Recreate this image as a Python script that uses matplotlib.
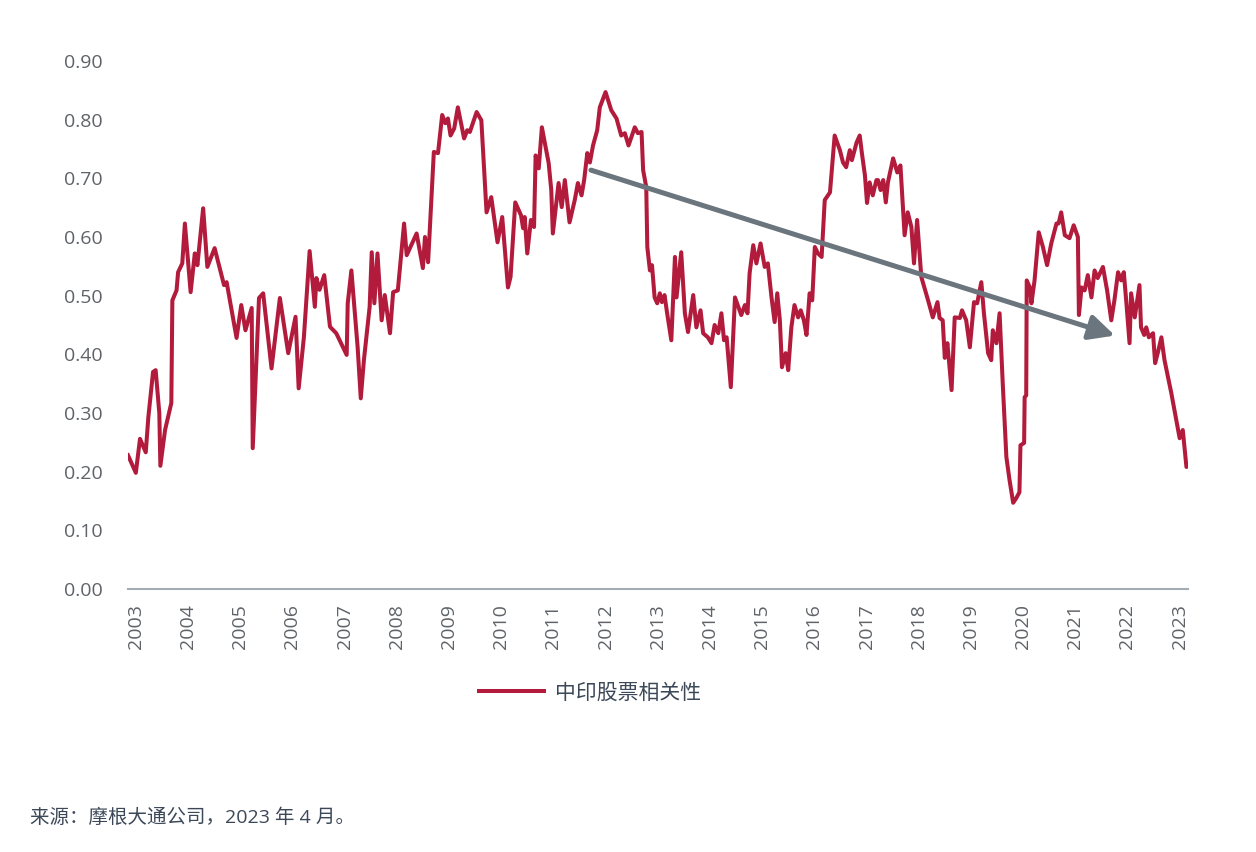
import matplotlib
matplotlib.use("Agg")
from matplotlib import pyplot as plt

# China-India equity correlation (fractional years)
years = [
    2002.85, 2003.00, 2003.08, 2003.19, 2003.24, 2003.33, 2003.38, 2003.43, 2003.45, 2003.47,
    2003.56, 2003.68, 2003.70, 2003.78, 2003.81, 2003.89, 2003.94, 2004.05, 2004.13, 2004.18,
    2004.29, 2004.37, 2004.51, 2004.69, 2004.74, 2004.93, 2005.02, 2005.10, 2005.22, 2005.24,
    2005.36, 2005.44, 2005.60, 2005.76, 2005.92, 2006.06, 2006.12, 2006.22, 2006.33, 2006.43,
    2006.46, 2006.52, 2006.61, 2006.72, 2006.84, 2007.04, 2007.06, 2007.13, 2007.25, 2007.31,
    2007.37, 2007.48, 2007.52, 2007.57, 2007.63, 2007.71, 2007.77, 2007.87, 2007.93, 2008.02,
    2008.14, 2008.19, 2008.38, 2008.50, 2008.54, 2008.60, 2008.71, 2008.79, 2008.87, 2008.93,
    2008.98, 2009.03, 2009.10, 2009.17, 2009.29, 2009.35, 2009.40, 2009.53, 2009.62, 2009.72,
    2009.81, 2009.93, 2010.02, 2010.13, 2010.18, 2010.27, 2010.38, 2010.42, 2010.45, 2010.50,
    2010.57, 2010.63, 2010.66, 2010.72, 2010.78, 2010.91, 2010.96, 2010.99, 2011.10, 2011.16,
    2011.22, 2011.31, 2011.41, 2011.47, 2011.54, 2011.59, 2011.65, 2011.70, 2011.76, 2011.84,
    2011.89, 2012.00, 2012.11, 2012.21, 2012.30, 2012.37, 2012.44, 2012.56, 2012.62, 2012.69,
    2012.72, 2012.78, 2012.80, 2012.85, 2012.89, 2012.94, 2012.99, 2013.04, 2013.08, 2013.13,
    2013.18, 2013.26, 2013.33, 2013.36, 2013.45, 2013.52, 2013.58, 2013.68, 2013.74, 2013.82,
    2013.87, 2013.96, 2014.03, 2014.09, 2014.16, 2014.22, 2014.27, 2014.32, 2014.40, 2014.48,
    2014.60, 2014.67, 2014.72, 2014.76, 2014.83, 2014.89, 2014.97, 2015.05, 2015.11, 2015.18,
    2015.24, 2015.29, 2015.34, 2015.38, 2015.45, 2015.50, 2015.56, 2015.62, 2015.69, 2015.74,
    2015.80, 2015.85, 2015.91, 2015.96, 2016.01, 2016.07, 2016.14, 2016.20, 2016.30, 2016.39,
    2016.49, 2016.55, 2016.61, 2016.68, 2016.72, 2016.81, 2016.87, 2016.91, 2016.97, 2017.01,
    2017.06, 2017.12, 2017.19, 2017.22, 2017.27, 2017.32, 2017.37, 2017.41, 2017.51, 2017.59,
    2017.65, 2017.73, 2017.79, 2017.86, 2017.91, 2017.97, 2018.05, 2018.18, 2018.27, 2018.36,
    2018.40, 2018.46, 2018.50, 2018.55, 2018.63, 2018.69, 2018.79, 2018.83, 2018.91, 2018.98,
    2019.06, 2019.12, 2019.20, 2019.25, 2019.33, 2019.39, 2019.42, 2019.49, 2019.55, 2019.61,
    2019.68, 2019.74, 2019.81, 2019.87, 2019.93, 2019.95, 2020.02, 2020.03, 2020.06, 2020.07,
    2020.13, 2020.16, 2020.22, 2020.30, 2020.38, 2020.46, 2020.54, 2020.64, 2020.68, 2020.73,
    2020.80, 2020.89, 2020.97, 2021.05, 2021.07, 2021.12, 2021.18, 2021.24, 2021.31, 2021.37,
    2021.43, 2021.53, 2021.61, 2021.69, 2021.75, 2021.82, 2021.88, 2021.93, 2021.98, 2022.04,
    2022.07, 2022.14, 2022.23, 2022.26, 2022.32, 2022.36, 2022.41, 2022.49, 2022.53, 2022.58,
    2022.65, 2022.71, 2022.84, 2022.90, 2022.97, 2023.00, 2023.06, 2023.13, 2023.16,
]
corr = [
    0.228, 0.198, 0.256, 0.233, 0.293, 0.370, 0.373, 0.320, 0.300, 0.210,
    0.271, 0.317, 0.492, 0.509, 0.540, 0.555, 0.623, 0.506, 0.572, 0.552,
    0.649, 0.549, 0.581, 0.518, 0.523, 0.428, 0.484, 0.441, 0.479, 0.240,
    0.496, 0.504, 0.376, 0.496, 0.402, 0.464, 0.342, 0.429, 0.576, 0.481,
    0.530, 0.510, 0.535, 0.447, 0.436, 0.399, 0.487, 0.543, 0.412, 0.325,
    0.390, 0.481, 0.574, 0.487, 0.572, 0.458, 0.501, 0.436, 0.506, 0.509,
    0.623, 0.569, 0.606, 0.547, 0.600, 0.557, 0.745, 0.743, 0.808, 0.794,
    0.802, 0.773, 0.785, 0.821, 0.768, 0.782, 0.779, 0.813, 0.799, 0.642,
    0.668, 0.591, 0.634, 0.514, 0.532, 0.659, 0.637, 0.615, 0.634, 0.572,
    0.629, 0.617, 0.739, 0.717, 0.787, 0.726, 0.680, 0.606, 0.692, 0.651,
    0.697, 0.625, 0.663, 0.692, 0.671, 0.697, 0.743, 0.727, 0.756, 0.782,
    0.821, 0.847, 0.816, 0.802, 0.773, 0.777, 0.756, 0.787, 0.777, 0.779,
    0.714, 0.685, 0.583, 0.543, 0.552, 0.497, 0.487, 0.504, 0.489, 0.501,
    0.470, 0.424, 0.566, 0.497, 0.574, 0.470, 0.438, 0.501, 0.446, 0.475,
    0.436, 0.429, 0.419, 0.450, 0.436, 0.470, 0.424, 0.429, 0.344, 0.497,
    0.467, 0.484, 0.470, 0.538, 0.586, 0.555, 0.589, 0.549, 0.555, 0.497,
    0.455, 0.504, 0.458, 0.378, 0.402, 0.373, 0.446, 0.484, 0.463, 0.475,
    0.458, 0.433, 0.504, 0.492, 0.583, 0.572, 0.566, 0.663, 0.676, 0.773,
    0.748, 0.727, 0.719, 0.748, 0.731, 0.761, 0.773, 0.744, 0.705, 0.658,
    0.693, 0.671, 0.697, 0.697, 0.680, 0.697, 0.659, 0.693, 0.734, 0.710,
    0.722, 0.603, 0.642, 0.617, 0.555, 0.629, 0.532, 0.492, 0.463, 0.489,
    0.462, 0.458, 0.394, 0.419, 0.339, 0.463, 0.462, 0.475, 0.458, 0.412,
    0.489, 0.487, 0.523, 0.470, 0.402, 0.390, 0.441, 0.419, 0.470, 0.351,
    0.225, 0.186, 0.147, 0.155, 0.165, 0.245, 0.249, 0.327, 0.330, 0.526,
    0.514, 0.487, 0.526, 0.608, 0.583, 0.552, 0.589, 0.623, 0.623, 0.642,
    0.603, 0.598, 0.620, 0.600, 0.467, 0.514, 0.509, 0.535, 0.497, 0.543,
    0.530, 0.549, 0.509, 0.458, 0.492, 0.540, 0.526, 0.540, 0.487, 0.419,
    0.504, 0.463, 0.518, 0.446, 0.433, 0.446, 0.429, 0.436, 0.385, 0.402,
    0.429, 0.390, 0.334, 0.305, 0.271, 0.257, 0.271, 0.208, 0.211,
]

# trend arrow, start and end
arrow_start = (2011.72, 0.714)
arrow_end = (2021.76, 0.432)

tick_years = list(range(2003, 2024))
y_ticks = [0.0, 0.1, 0.2, 0.3, 0.4, 0.5, 0.6, 0.7, 0.8, 0.9]

series_label = "中印股票相关性"
source_text = "来源：摩根大通公司，2023 年 4 月。"

plt.rcParams['font.family'] = ['Open Sans', 'Noto Sans CJK SC', 'DejaVu Sans']

red = "#b31b3c"
grey_text = "#5f6368"
dark_text = "#3c4858"

fig = plt.figure(figsize=(12.56, 8.52), dpi=100)
ax = fig.add_axes([128 / 1256, 1 - 589 / 852, 1060 / 1256, 528 / 852])

ax.plot(years, corr, color=red, lw=2.9, solid_joinstyle='round', label=series_label)

ax.annotate("", xy=arrow_end, xytext=arrow_start,
            arrowprops=dict(arrowstyle="-|>,head_length=0.55,head_width=0.27",
                            color="#6b757d", lw=3.6, mutation_scale=28,
                            shrinkA=0, shrinkB=0))

ax.set_xlim(2002.85, 2023.16)
ax.set_ylim(0, 0.9)
ax.set_xticks(tick_years)
ax.set_xticklabels([str(y) for y in tick_years], rotation=90)
ax.set_yticks(y_ticks)
ax.set_yticklabels([f"{v:.2f}" for v in y_ticks])
ax.tick_params(axis='both', length=0, labelsize=14, labelcolor=grey_text)
ax.tick_params(axis='y', pad=18)
ax.tick_params(axis='x', pad=11)

for side in ['top', 'right', 'left']:
    ax.spines[side].set_visible(False)
ax.spines['bottom'].set_color("#a3abb3")
ax.spines['bottom'].set_linewidth(1.5)

leg = fig.legend(loc='center', bbox_to_anchor=(590 / 1256, 1 - 693 / 852),
                 frameon=False, fontsize=15, handlelength=3.1, handletextpad=0.55)
for t in leg.get_texts():
    t.set_color(dark_text)

fig.text(30 / 1256, 1 - 818 / 852, source_text, fontsize=14, color=dark_text,
         ha='left', va='center')

fig.savefig("out.png", dpi=100)
